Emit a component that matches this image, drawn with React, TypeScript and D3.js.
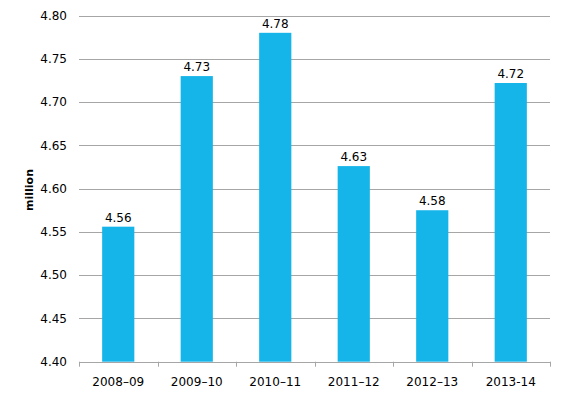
import React from "react";
import * as d3 from "d3";

const categories = ["2008–09", "2009–10", "2010–11", "2011–12", "2012–13", "2013-14"];
const values = [4.556, 4.73, 4.78, 4.626, 4.575, 4.722];
const labels = ["4.56", "4.73", "4.78", "4.63", "4.58", "4.72"];
const yTicks = [4.4, 4.45, 4.5, 4.55, 4.6, 4.65, 4.7, 4.75, 4.8];

export default function App() {
  const W = 562, H = 393;
  const left = 79, right = 550, top = 15.5, bottom = 361.7;
  const x = d3.scaleBand<string>().domain(categories).range([left, right]).paddingInner(0.59).paddingOuter(0.295);
  const band = (right - left) / categories.length;
  const y = d3.scaleLinear().domain([4.4, 4.8]).range([bottom, top]);
  const font = "'DejaVu Sans', Verdana, sans-serif";
  return (
    <svg width={W} height={H} style={{ position: "absolute", left: 0, top: 0 }} fontFamily={font}>
      <rect width={W} height={H} fill="#fff" />
      {yTicks.map((t) => (
        <g key={t}>
          <line x1={left} x2={right} y1={Math.round(y(t)) + 0.5} y2={Math.round(y(t)) + 0.5} stroke="#A6A6A6" strokeWidth={1} />
          <text x={67} y={y(t)} dy="0.35em" textAnchor="end" fontSize={12} fill="#000">{t.toFixed(2)}</text>
        </g>
      ))}
      {categories.map((c, i) => {
        const v = values[i];
        const bx = x(c)!;
        return (
          <g key={c}>
            <rect x={bx} y={y(v)} width={x.bandwidth()} height={bottom - y(v)} fill="#15B5E9" />
            <text x={bx + x.bandwidth() / 2} y={y(v) - 5} textAnchor="middle" fontSize={12} fill="#000">{labels[i]}</text>
            <text x={left + band * (i + 0.5)} y={386} textAnchor="middle" fontSize={12} fill="#000">{c}</text>
          </g>
        );
      })}
      <line x1={left} x2={right} y1={Math.round(bottom) + 0.5} y2={Math.round(bottom) + 0.5} stroke="#A6A6A6" />
      {d3.range(categories.length + 1).map((i) => (
        <line key={i} x1={Math.round(left + band * i) + 0.5} x2={Math.round(left + band * i) + 0.5} y1={bottom} y2={bottom + 5} stroke="#A6A6A6" />
      ))}
      <text transform={`translate(33,190) rotate(-90)`} textAnchor="middle" fontSize={11} fontWeight="bold" fill="#000">million</text>
    </svg>
  );
}
